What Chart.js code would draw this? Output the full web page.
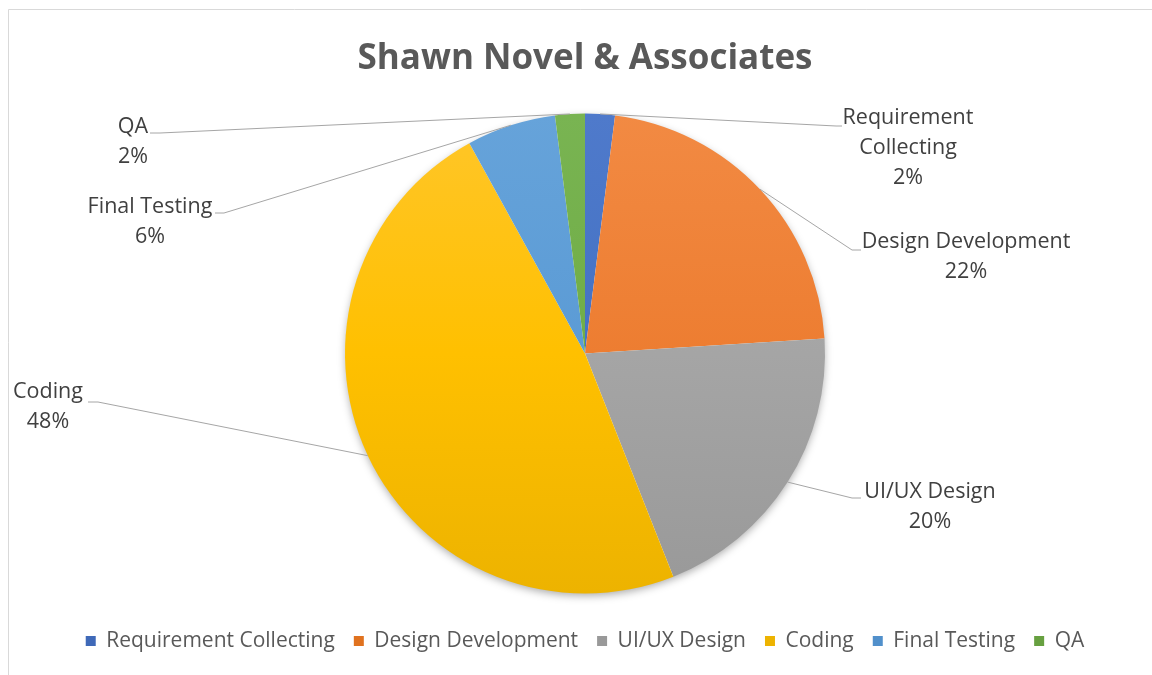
<!DOCTYPE html>
<html>
<head>
<meta charset="utf-8">
<script src="https://cdn.jsdelivr.net/npm/chart.js@4.4.1/dist/chart.umd.min.js"></script>
<style>
  html, body { margin: 0; padding: 0; background: #ffffff; }
  #wrap { position: relative; width: 1152px; height: 675px; }
  canvas { display: block; }
</style>
</head>
<body>
<div id="wrap"><canvas id="c" width="1152" height="675"></canvas></div>
<script>
// ---- data ----
const chartTitle = 'Shawn Novel & Associates';
const categories = ['Requirement Collecting', 'Design Development', 'UI/UX Design', 'Coding', 'Final Testing', 'QA'];
const shares = [2, 22, 20, 48, 6, 2];
const labelLines = [['Requirement', 'Collecting'], ['Design Development'], ['UI/UX Design'], ['Coding'], ['Final Testing'], ['QA']];

// ---- styles ----
const baseColors = ['#4472C4', '#ED7D31', '#A5A5A5', '#FFC000', '#5B9BD5', '#70AD47'];
const lightColors = ['#4F7ACB', '#F28A43', '#B0B0B0', '#FFC62A', '#66A3DA', '#79B452'];
const darkColors  = ['#3F69B8', '#E0721F', '#999999', '#EDB300', '#5190CB', '#67A040'];

// label layout: text centre x, first line centre y, elbow point, end point
const labelLayout = [
  { tx: 908, ty: 118, ex: 836, ey: 126, hx: 842 },
  { tx: 966, ty: 242, ex: 852, ey: 250, hx: 861 },
  { tx: 930, ty: 492, ex: 852, ey: 498, hx: 861 },
  { tx: 48,  ty: 392, ex: 98,  ey: 402, hx: 88 },
  { tx: 150, ty: 207, ex: 224, ey: 213, hx: 215 },
  { tx: 133, ty: 127, ex: 160, ey: 133, hx: 150 }
];
const labelFont = '21.5px "Open Sans", sans-serif';
const labelLineGap = 30;

const frame = {
  id: 'frame',
  beforeDraw(chart) {
    const c = chart.ctx;
    c.save();
    c.fillStyle = '#ffffff';
    c.fillRect(0, 0, chart.width, chart.height);
    c.strokeStyle = '#d9d9d9';
    c.lineWidth = 1;
    c.beginPath();
    c.moveTo(8.5, chart.height);
    c.lineTo(8.5, 9.5);
    c.lineTo(chart.width, 9.5);
    c.stroke();
    c.restore();
  }
};

const pieShadow = {
  id: 'pieShadow',
  beforeDatasetsDraw(chart) {
    const arc = chart.getDatasetMeta(0).data[0];
    if (!arc) return;
    const c = chart.ctx;
    c.save();
    c.shadowColor = 'rgba(0,0,0,0.35)';
    c.shadowBlur = 9;
    c.shadowOffsetX = 0;
    c.shadowOffsetY = 3;
    c.fillStyle = '#ffffff';
    c.beginPath();
    c.arc(arc.x, arc.y, arc.outerRadius - 1, 0, Math.PI * 2);
    c.fill();
    c.restore();
  }
};

const leaderLabels = {
  id: 'leaderLabels',
  afterDatasetsDraw(chart) {
    const meta = chart.getDatasetMeta(0);
    const c = chart.ctx;
    c.save();
    meta.data.forEach((arc, i) => {
      const L = labelLayout[i];
      const mid = (arc.startAngle + arc.endAngle) / 2;
      const sx = arc.x + Math.cos(mid) * arc.outerRadius;
      const sy = arc.y + Math.sin(mid) * arc.outerRadius;
      c.strokeStyle = '#a6a6a6';
      c.lineWidth = 1;
      c.beginPath();
      c.moveTo(sx, sy);
      c.lineTo(L.ex, L.ey);
      c.lineTo(L.hx, L.ey);
      c.stroke();
      c.fillStyle = '#404040';
      c.font = labelFont;
      c.textAlign = 'center';
      c.textBaseline = 'middle';
      const lines = labelLines[i].concat([shares[i] + '%']);
      lines.forEach((t, k) => c.fillText(t, L.tx, L.ty + k * labelLineGap));
    });
    c.restore();
  }
};

function sliceFill(ctx) {
  const i = ctx.dataIndex;
  const chart = ctx.chart;
  const area = chart.chartArea;
  if (!area) return baseColors[i];
  const cy = (area.top + area.bottom) / 2;
  const g = chart.ctx.createLinearGradient(0, cy - 240, 0, cy + 240);
  g.addColorStop(0, lightColors[i]);
  g.addColorStop(0.5, baseColors[i]);
  g.addColorStop(1, darkColors[i]);
  return g;
}

new Chart(document.getElementById('c'), {
  type: 'pie',
  data: {
    labels: categories,
    datasets: [{
      data: shares,
      backgroundColor: sliceFill,
      borderWidth: 0,
      radius: 240
    }]
  },
  options: {
    responsive: false,
    animation: false,
    layout: { padding: { left: 18, right: 0, top: 0, bottom: 13.5 } },
    plugins: {
      title: {
        display: true,
        text: chartTitle,
        color: '#595959',
        font: { family: '"Open Sans", sans-serif', size: 35, weight: 'bold', lineHeight: 1.2 },
        padding: { top: 38, bottom: 15.5 }
      },
      legend: {
        display: true,
        position: 'bottom',
        labels: {
          color: '#595959',
          font: { family: '"Open Sans", sans-serif', size: 21 },
          boxWidth: 10,
          boxHeight: 10,
          padding: 19
        }
      },
      tooltip: { enabled: false }
    }
  },
  plugins: [frame, pieShadow, leaderLabels]
});
</script>
</body>
</html>
